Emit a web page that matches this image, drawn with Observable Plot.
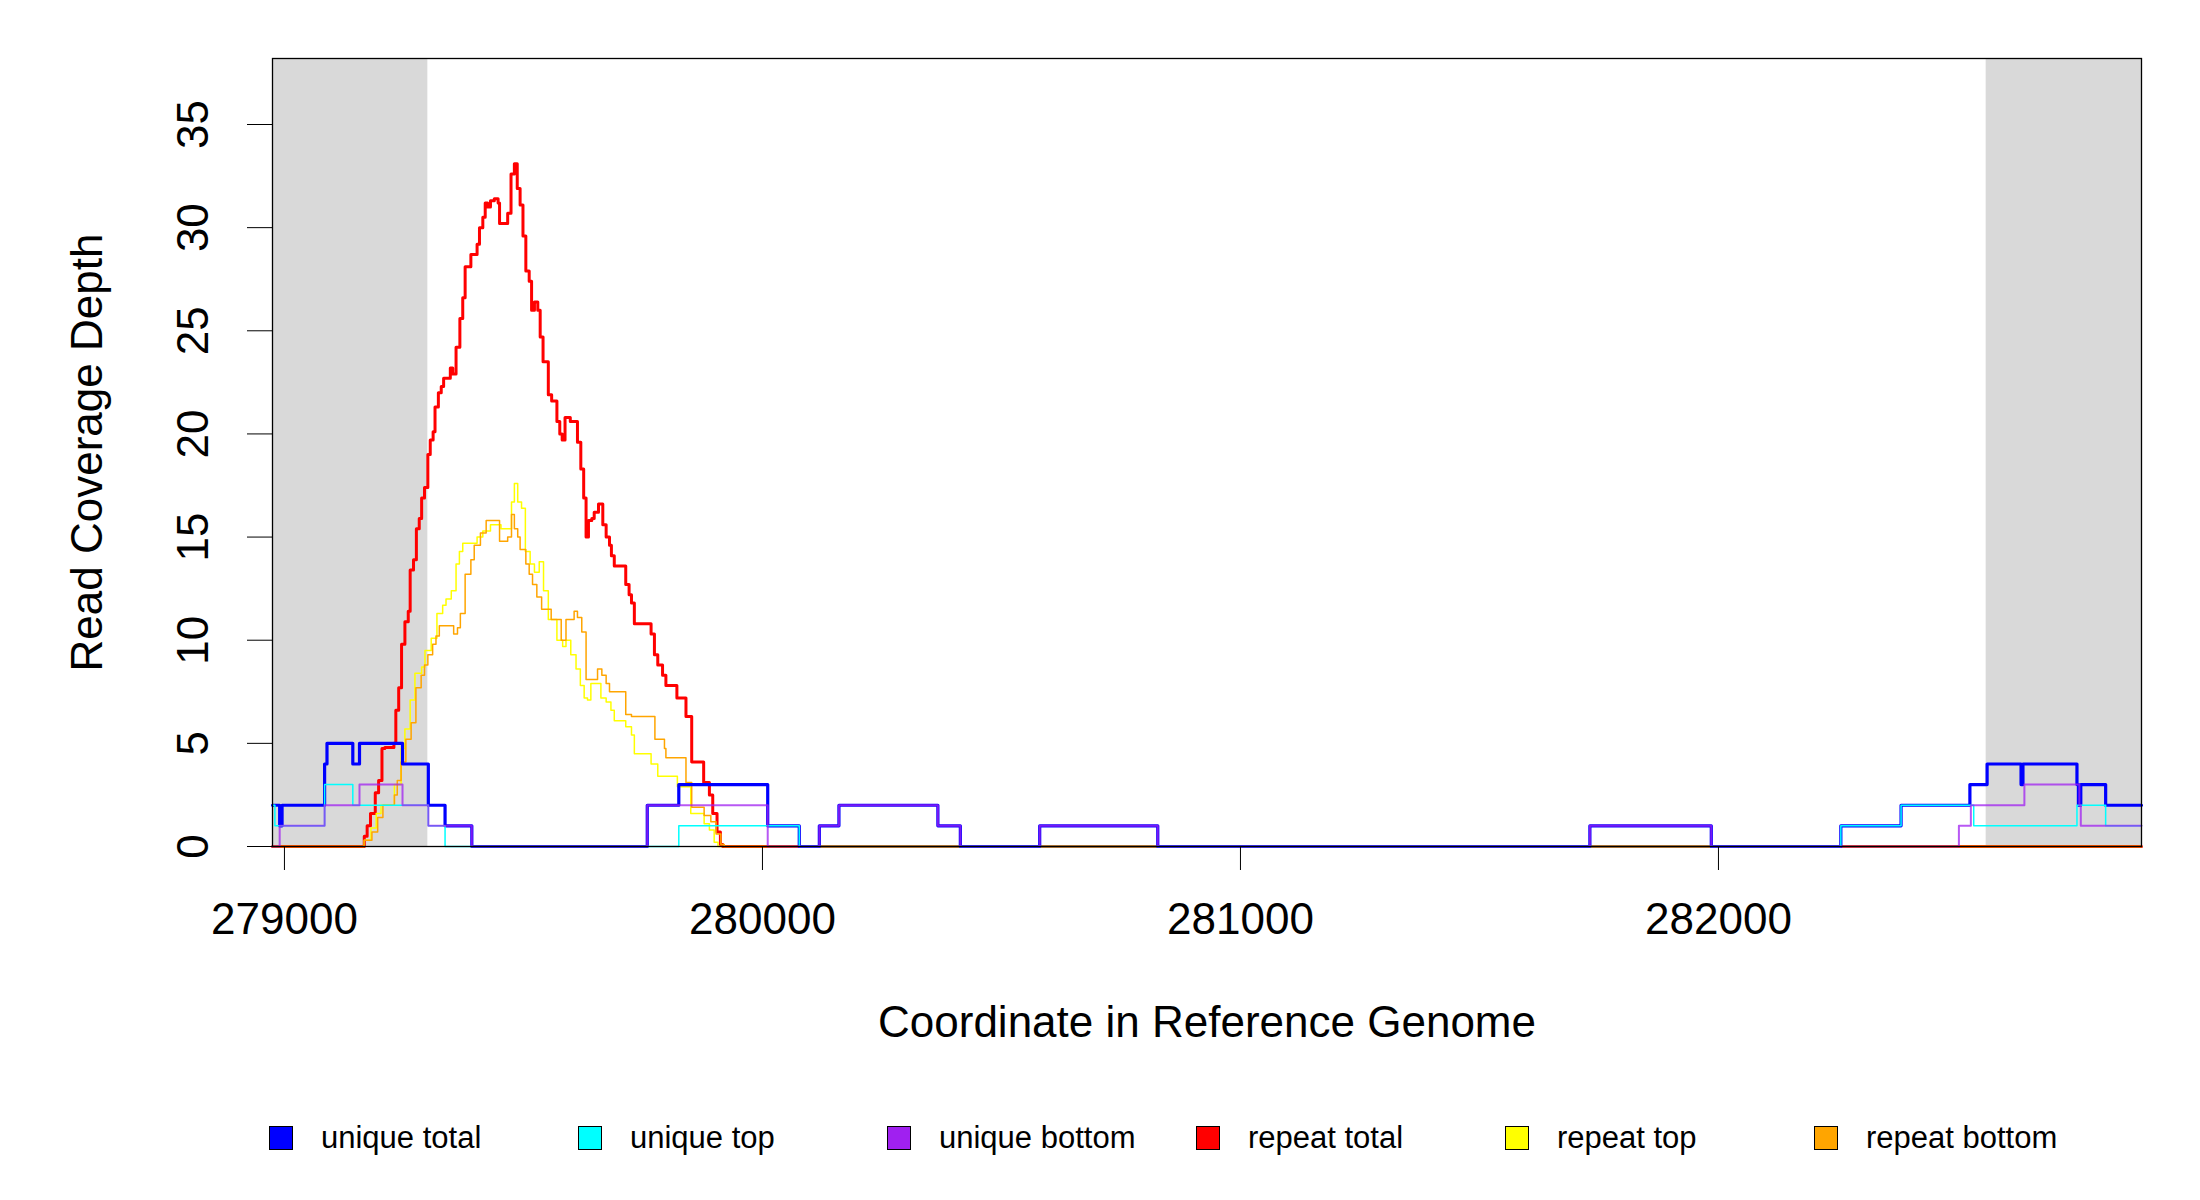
<!DOCTYPE html>
<html><head><meta charset="utf-8">
<script src="https://cdn.jsdelivr.net/npm/d3@7"></script>
<script src="https://cdn.jsdelivr.net/npm/@observablehq/plot@0.6"></script>
<style>
body{margin:0;background:#fff;font-family:"Liberation Sans",Arial,sans-serif;}
#wrap{position:relative;width:2200px;height:1200px;}
.leg{position:absolute;top:1120px;font-size:31px;display:flex;align-items:center;}
.leg span.box{display:inline-block;width:22px;height:22px;border:1.5px solid #000;margin-right:28px;}
</style></head>
<body><div id="wrap"></div>
<script>
const xDomain = [278975, 282885];
const yTicks = [0,5,10,15,20,25,30,35];
const xTicks = [279000,280000,281000,282000];
const shaded = [[278975,279300],[282560,282885]];

const redX = [278975,279167,279173,279180,279190,279197,279204,279210,279229,279233,279239,279245,279252,279259,279263,279270,279276,279282,279287,279293,279300,279305,279311,279315,279322,279328,279333,279347,279352,279359,279367,279373,279378,279390,279403,279408,279415,279420,279425,279431,279439,279447,279450,279467,279474,279481,279487,279493,279499,279505,279512,279517,279523,279530,279535,279541,279552,279559,279570,279576,279581,279587,279598,279613,279620,279626,279631,279636,279643,279648,279657,279666,279673,279680,279684,279690,279714,279721,279726,279732,279767,279774,279781,279791,279798,279821,279840,279852,279877,279889,279896,279905,279912,279917,282885];
const redY = [0,0.5,1.0,1.6,2.6,3.2,4.75,4.8,5.0,6.6,7.7,9.8,10.9,11.4,13.4,13.9,15.4,15.9,16.9,17.4,19.0,19.7,20.1,21.3,22.0,22.3,22.7,23.2,22.9,24.2,25.6,26.6,28.1,28.7,29.2,30.0,30.5,31.2,31.0,31.3,31.4,31.2,30.2,30.7,32.6,33.1,31.9,31.1,29.6,27.9,27.4,26.0,26.4,26.0,24.7,23.5,21.9,21.6,20.6,20.0,19.7,20.8,20.6,19.6,18.3,16.9,15.0,15.8,15.9,16.2,16.6,15.6,15.0,14.6,14.1,13.6,12.7,12.2,11.8,10.8,10.3,9.3,8.8,8.3,7.8,7.2,6.3,4.1,3.1,2.5,1.6,0.7,0.1,0,0];

const yelX = [278975,279167,279181,279192,279202,279230,279244,279252,279263,279273,279287,279294,279307,279319,279331,279338,279349,279359,279366,279373,279403,279415,279431,279453,279475,279481,279488,279496,279504,279514,279523,279533,279542,279552,279570,279582,279589,279599,279610,279619,279627,279634,279641,279662,279673,279683,279690,279714,279726,279732,279767,279781,279822,279850,279878,279889,279899,279907,282885];
const yelY = [0,0.3,0.9,1.6,2.0,3.0,4.75,5.7,7.1,8.4,8.7,9.5,10.1,11.3,11.7,12.0,12.4,13.7,14.3,14.7,15.0,15.3,15.6,15.4,16.7,17.6,16.7,16.4,14.3,13.7,13.3,13.8,12.4,11.0,10.0,9.7,10.0,9.3,8.6,7.8,7.2,7.1,7.9,7.2,7.0,6.6,6.1,5.8,5.4,4.5,4.0,3.4,2.9,1.6,1.1,0.8,0.2,0,0];

const orgX = [278975,279167,279183,279195,279206,279230,279236,279244,279254,279265,279275,279286,279293,279300,279310,279317,279324,279354,279362,279368,279378,279390,279397,279410,279422,279432,279450,279467,279475,279481,279488,279493,279505,279512,279519,279528,279538,279558,279579,279589,279606,279613,279622,279631,279643,279655,279664,279673,279680,279714,279726,279775,279795,279798,279840,279852,279878,279892,279903,279913,279920,282885];
const orgY = [0,0.3,0.7,1.4,2.0,2.5,3.2,4.1,5.2,6.0,7.7,8.3,8.8,9.3,9.8,10.2,10.7,10.3,10.6,11.3,13.2,13.9,14.6,15.2,15.8,15.8,14.8,15.0,16.1,15.4,15.0,14.4,13.7,13.2,12.7,12.1,11.5,11.0,10.0,11.0,11.4,11.1,10.4,8.1,8.1,8.6,8.3,7.9,7.5,6.4,6.3,5.2,4.75,4.3,3.1,1.9,1.5,1.2,0.6,0.1,0,0];

const uTotX = [278975,278990,278995,279084,279089,279143,279157,279247,279301,279336,279392,279759,279825,280011,280077,280119,280160,280367,280414,280580,280827,281731,281985,282256,282382,282526,282562,282633,282637,282750,282753,282758,282810,282885];
const uTotY = [2,1,2,4,5,4,5,4,2,1,0,2,3,1,0,1,2,1,0,1,0,1,0,1,2,3,4,3,4,3,2,3,2,2];

const uTopX = [278975,278980,279084,279143,279301,279336,279825,280011,280077,282256,282382,282534,282750,282758,282810,282885];
const uTopY = [2,1,3,2,1,0,1,1,0,1,2,1,2,2,1,1];

const uBotX = [278975,278990,279084,279157,279247,279301,279392,279759,280011,280119,280160,280367,280414,280580,280827,281731,281985,282503,282528,282640,282755,282758,282885];
const uBotY = [0,1,2,3,2,1,0,2,0,1,2,1,0,1,0,1,0,1,2,3,2,1,1];

const zip = (xs, ys) => xs.map((x, i) => ({x, y: ys[i]}));
const series = [
  {name:"repeat total", color:"#ff0000", w:3, o:1, d: zip(redX,redY)},
  {name:"repeat top", color:"#ffff00", w:1.5, o:1, d: zip(yelX,yelY)},
  {name:"repeat bottom", color:"#ffa500", w:1.5, o:1, d: zip(orgX,orgY)},
  {name:"unique total", color:"#0000ff", w:3.2, o:1, d: zip(uTotX,uTotY)},
  {name:"unique top", color:"#00ffff", w:1.5, o:1, d: zip(uTopX,uTopY)},
  {name:"unique bottom", color:"#a020f0", w:2, o:0.75, d: zip(uBotX,uBotY)},
];
const legendItems = [["unique total","#0000ff"],["unique top","#00ffff"],["unique bottom","#a020f0"],["repeat total","#ff0000"],["repeat top","#ffff00"],["repeat bottom","#ffa500"]];

const marks = [
  Plot.rect(shaded.map(s => ({x1:s[0], x2:s[1]})), {x1:"x1", x2:"x2", y1:0, y2:38.2, fill:"#d9d9d9"}),
  ...series.map(s => Plot.line(s.d, {x:"x", y:"y", curve:"step-after", stroke:s.color, strokeWidth:s.w, strokeOpacity:s.o})),
  Plot.frame({stroke:"#000", strokeWidth:1.3}),
  Plot.axisX({ticks:xTicks, tickSize:24, tickPadding:32, tickFormat:d=>String(d), fontSize:44, label:null}),
  Plot.axisY({ticks:yTicks, tickSize:25, tickPadding:0, tickFormat:()=>"", label:null}),
  Plot.text(yTicks, {x:xDomain[0], y:d=>d, text:d=>String(d), rotate:-90, dx:-79, fontSize:44, textAnchor:"middle", fill:"#000"}),
  Plot.text([19.1], {x:xDomain[0], y:d=>d, text:()=>"Read Coverage Depth", rotate:-90, dx:-185, fontSize:44, textAnchor:"middle", fill:"#000"}),
  Plot.text(["Coordinate in Reference Genome"], {frameAnchor:"bottom", text:d=>d, dy:190, fontSize:44, fill:"#000"})
];

const chart = Plot.plot({
  width:2200, height:1080,
  marginTop:58, marginLeft:272, marginRight:59, marginBottom:234,
  style:{fontFamily:"Liberation Sans, Arial, sans-serif", fontSize:"44px", color:"#000", background:"#fff"},
  x:{domain:xDomain},
  y:{domain:[0,38.2]},
  marks
});
const wrap = document.getElementById("wrap");
chart.style.position="absolute"; chart.style.left="0"; chart.style.top="0";
wrap.appendChild(chart);
legendItems.forEach(([n,c],i) => {
  const el = document.createElement("div");
  el.className="leg";
  el.style.left = (269 + i*309) + "px";
  el.innerHTML = `<span class="box" style="background:${c}"></span>${n}`;
  wrap.appendChild(el);
});
</script></body></html>
